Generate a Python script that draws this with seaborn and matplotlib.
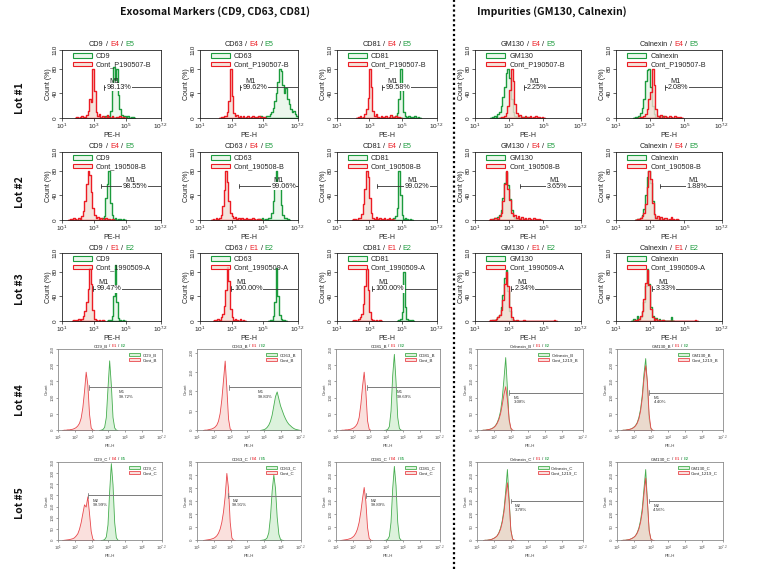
import numpy as np
import matplotlib
matplotlib.use("Agg")
import matplotlib.pyplot as plt
from matplotlib.patches import Patch
from matplotlib.lines import Line2D
import seaborn as sns

sns.set_theme(style="white")
plt.rcParams["font.family"] = ["Liberation Sans", "DejaVu Sans"]
plt.rcParams["mathtext.fontset"] = "custom"
plt.rcParams["mathtext.rm"] = "Liberation Sans"
plt.rcParams["mathtext.it"] = "Liberation Sans"
plt.rcParams["mathtext.default"] = "regular"

# ---------------------------------------------------------------- data
BIN = 0.1  # width of one histogram bin, in decades of PE-H

# (log10 of first bin's left edge, counts per bin)
# Lot #1  (Count %, max ~80)
L1_CD9_ctrl = (1.8, [0,2,0,1,3,0,2,5,12,30,26,80,44,10,3,6,0,4,2,0,5,1,0,3,0,0,2,0,4,0,1,0])
L1_CD9_pos = (3.4, [0,2,1,3,0,4,12,45,82,62,80,38,14,5,2,4,0,3,0,1,2,0])
L1_CD63_ctrl = (2.2, [0,2,1,4,3,10,28,80,36,8,3,5,1,4,0,3,0,2,4,0,1,3,0,2,0,3,1,0,2,0])
L1_CD63_pos = (4.5, [0,2,0,3,1,0,2,4,3,6,10,16,28,40,58,80,76,54,40,48,30,22,14,10,12,6,4,2])
L1_CD81_ctrl = (2.2, [0,1,3,0,2,6,14,32,80,50,12,4,6,2,0,4,1,0,3,0,2,5,0,1,3,0,2,0])
L1_CD81_pos = (4.3, [0,2,1,4,8,30,80,46,10,3,1,4,0,2,0,3,0,1,0])
L1_GM130_ctrl = (2.4, [0,1,2,4,8,20,45,80,60,22,8,3,5,1,0,3,0,2,4,0,1,3,0,2,0,1,0])
L1_GM130_pos = (1.9, [0,1,3,2,6,10,20,34,50,72,80,64,30,10,3,2,4,0,1,2,0,1,0])
L1_CAL_ctrl = (2.3, [0,2,1,3,6,14,30,42,80,54,14,4,2,5,0,3,1,0,4,2,0,3,1,0,2,0])
L1_CAL_pos = (2.0, [0,2,1,4,8,16,30,60,78,80,50,20,6,2,4,1,0,3,0,2,0])

# Lot #2
L2_CD9_ctrl = (1.4, [0,1,0,3,2,0,4,2,6,14,30,58,80,72,46,20,8,3,5,1,4,0,2,3,0,1,0,2,0])
L2_CD9_pos = (3.2, [0,2,1,3,6,36,58,80,28,8,2,3,0,2,1,0,2,0])
L2_CD63_ctrl = (1.7, [0,2,0,3,1,4,8,22,48,80,62,30,12,6,3,5,2,4,1,3,0,2,4,1,2,0,3,1,0,2,1,0])
L2_CD63_pos = (4.6, [0,2,1,3,0,2,1,3,4,12,30,58,80,55,58,24,8,3,4,1,0])
L2_CD81_ctrl = (1.9, [0,2,1,0,3,4,10,26,50,80,70,36,12,4,2,5,1,3,0,2,4,0,1,3,0,2,0])
L2_CD81_pos = (4.3, [0,2,3,6,20,80,40,8,2,3,1,0,2,0])
L2_GM130_ctrl = (1.8, [0,2,0,3,4,2,6,12,30,58,80,50,32,12,6,8,3,6,2,5,1,4,0,3,2,0,4,1,0,2,0])
L2_GM130_pos = (1.9, [0,1,3,2,5,8,16,36,60,78,56,34,16,6,3,2,4,1,0,2,0])
L2_CAL_ctrl = (2.1, [0,2,1,3,6,12,26,54,80,66,28,10,4,6,2,5,1,3,4,0,2,5,1,0,2,0])
L2_CAL_pos = (2.1, [0,1,2,4,8,18,40,70,80,60,30,8,3,2,4,0,1,0])

# Lot #3
L3_CD9_ctrl = (1.6, [0,1,0,2,3,1,4,8,16,30,52,86,60,18,4,1,0,2,0,1,0])
L3_CD9_pos = (3.8, [0,1,2,8,40,90,30,5,1,0,2,0])
L3_CD63_ctrl = (1.8, [0,2,1,3,2,6,12,24,50,88,64,20,6,2,4,1,0,3,0,1,0])
L3_CD63_pos = (5.3, [0,1,2,8,30,86,40,10,3,1,2,0])
L3_CD81_ctrl = (1.9, [0,1,2,0,3,6,12,28,56,84,50,14,4,1,0,2,0,1,0])
L3_CD81_pos = (4.7, [0,1,3,14,80,22,4,1,0,2,0])
L3_GM130_ctrl = (1.8, [0,1,2,1,4,6,10,18,34,60,80,56,22,6,2,0,1,0,0,0,2,0,0,0,0,0,0,0,0,0,0,0,0,0,0,0,0,0,2,0])
L3_GM130_pos = (1.9, [0,2,1,3,6,10,22,42,70,82,48,16,4,1,0])
L3_CAL_ctrl = (2.0, [0,1,2,4,8,16,36,62,82,58,20,6,2,3,0,1,0,2,0,0,0,0,0,0,0,0,0,0,0,0,0,0,0,0,0,0,2,0])
L3_CAL_pos = (1.9, [0,3,0,8,2,6,14,30,56,84,60,22,8,2,5,0,3,0,2,0,0,0,0,6,0])

# Lot #4 (Count)
L4_CD9_ctrl = (1.2, [0,1,1,2,2,3,4,6,9,14,22,38,70,120,180,140,50,8,1,0])
L4_CD9_pos = (3.4, [0,1,3,10,40,130,215,140,40,8,1,0])
L4_CD63_ctrl = (1.3, [0,1,1,2,3,4,6,9,14,24,44,80,130,180,110,30,4,0])
L4_CD63_pos = (4.7, [0,1,2,4,8,14,24,40,64,88,100,82,64,52,40,30,22,16,12,8,5,3,2,1,0])
L4_CD81_ctrl = (1.2, [0,1,1,2,2,3,4,6,9,14,22,40,80,135,180,120,30,4,0])
L4_CD81_pos = (3.8, [0,1,3,12,60,170,235,150,40,6,1,0])
L4_CAL_ctrl = (1.2, [0,1,1,2,3,4,6,9,14,22,34,52,80,112,135,95,35,8,1,0])
L4_CAL_pos = (1.2, [0,1,1,2,3,4,6,10,15,24,38,60,100,160,225,130,30,4,0])
L4_GM130_ctrl = (1.2, [0,1,1,2,3,4,6,9,14,22,36,60,100,160,200,150,50,8,1,0])
L4_GM130_pos = (1.2, [0,1,1,2,3,4,6,10,15,24,40,66,110,175,222,140,36,5,0])

# Lot #5 (Count)
L5_CD9_ctrl = (1.2, [0,1,2,3,4,6,8,12,20,30,50,80,120,160,150,196,120,40,6,0])
L5_CD9_pos = (3.5, [0,1,4,16,70,220,345,250,80,12,1,0])
L5_CD63_ctrl = (1.3, [0,1,2,3,4,6,8,12,18,28,44,70,110,170,258,200,70,10,1,0])
L5_CD63_pos = (4.7, [0,1,2,4,10,30,90,190,252,200,90,24,4,1,0])
L5_CD81_ctrl = (1.2, [0,1,2,3,4,6,8,12,18,28,44,70,110,160,204,150,50,8,1,0])
L5_CD81_pos = (3.8, [0,1,4,16,70,200,285,210,70,10,1,0])
L5_CAL_ctrl = (1.3, [0,1,1,2,3,5,8,12,18,28,44,70,110,170,222,150,40,6,1,0])
L5_CAL_pos = (1.3, [0,1,1,2,3,5,8,12,18,30,48,76,120,190,273,160,40,6,0])
L5_GM130_ctrl = (1.2, [0,1,1,2,3,5,8,12,18,28,44,70,110,180,240,150,40,6,1,0])
L5_GM130_pos = (1.2, [0,1,1,2,3,5,8,12,18,30,48,78,124,200,273,150,36,5,0])

# labels
markers_top = ["CD9", "CD63", "CD81", "GM130", "Calnexin"]
markers_bottom = ["CD9", "CD63", "CD81", "Calnexin", "GM130"]
ctrl_top = ["Cont_P190507-B", "Cont_190508-B", "Cont_1990509-A"]
gates_top = [["E4", "E5"], ["E4", "E5"], ["E1", "E2"]]
lot_names = ["Lot #1", "Lot #2", "Lot #3", "Lot #4", "Lot #5"]

pct_lot1 = ["98.13%", "99.62%", "99.58%", "2.25%", "2.08%"]
pct_lot2 = ["98.55%", "99.06%", "99.02%", "3.65%", "1.88%"]
pct_lot3 = ["99.47%", "100.00%", "100.00%", "2.34%", "3.33%"]
pct_lot4 = ["99.72%", "99.83%", "99.69%", "3.08%", "4.40%"]
pct_lot5 = ["99.99%", "99.91%", "99.89%", "3.78%", "4.56%"]

gate_lo_lot1 = [3.6, 3.5, 3.8, 3.85, 3.85]
gate_lo_lot2 = [3.45, 3.45, 3.5, 3.65, 3.6]
gate_lo_lot3 = [2.95, 2.95, 3.2, 3.1, 3.1]
gate_lo_lot4 = [2.84, 2.93, 2.85, 2.9, 2.9]
gate_lo_lot5 = [2.8, 2.85, 2.8, 2.96, 2.87]
gate_level_top = [50, 55, 52]
gate_level_lot4 = [132, 111, 132, 115, 115]
gate_level_lot5 = [200, 171, 171, 150, 150]
ymax_lot4 = [250, 210, 250, 250, 250]
ymax_lot5 = [350, 300, 300, 300, 300]

ctrl_lot4 = ["Cont_B", "Cont_B", "Cont_B", "Cont_1219_B", "Cont_1219_B"]
ctrl_lot5 = ["Cont_C", "Cont_C", "Cont_C", "Cont_1219_C", "Cont_1219_C"]
gates_lot4 = [["E1", "E2"]] * 5
gates_lot5 = [["E4", "E5"], ["E4", "E5"], ["E4", "E5"], ["E1", "E2"], ["E1", "E2"]]

top_series = [
    [(L1_CD9_pos, L1_CD9_ctrl), (L1_CD63_pos, L1_CD63_ctrl), (L1_CD81_pos, L1_CD81_ctrl), (L1_GM130_pos, L1_GM130_ctrl), (L1_CAL_pos, L1_CAL_ctrl)],
    [(L2_CD9_pos, L2_CD9_ctrl), (L2_CD63_pos, L2_CD63_ctrl), (L2_CD81_pos, L2_CD81_ctrl), (L2_GM130_pos, L2_GM130_ctrl), (L2_CAL_pos, L2_CAL_ctrl)],
    [(L3_CD9_pos, L3_CD9_ctrl), (L3_CD63_pos, L3_CD63_ctrl), (L3_CD81_pos, L3_CD81_ctrl), (L3_GM130_pos, L3_GM130_ctrl), (L3_CAL_pos, L3_CAL_ctrl)],
]
bottom_series = [
    [(L4_CD9_pos, L4_CD9_ctrl), (L4_CD63_pos, L4_CD63_ctrl), (L4_CD81_pos, L4_CD81_ctrl), (L4_CAL_pos, L4_CAL_ctrl), (L4_GM130_pos, L4_GM130_ctrl)],
    [(L5_CD9_pos, L5_CD9_ctrl), (L5_CD63_pos, L5_CD63_ctrl), (L5_CD81_pos, L5_CD81_ctrl), (L5_CAL_pos, L5_CAL_ctrl), (L5_GM130_pos, L5_GM130_ctrl)],
]
pct_top = [pct_lot1, pct_lot2, pct_lot3]
gate_lo_top = [gate_lo_lot1, gate_lo_lot2, gate_lo_lot3]

# ---------------------------------------------------------------- layout / style
W, H = 757, 569
COLS_TOP = [(62, 161), (200, 298), (337, 437), (475, 581), (616, 722)]
ROWS_TOP = [(50, 118), (152, 220), (253, 321)]
COLS_BOT = [(58, 162), (197, 301), (336, 440), (477, 583), (617, 723)]
ROWS_BOT = [(349, 430), (462, 540)]
LOT_Y = [98, 192, 289, 400, 503]
TXT_X_LOT2 = [4.8, 5.5, 5.2, 5.2, 5.1]

RED, GREEN = "#ec1c24", "#1b9b3d"
RED_FILL, GREEN_FILL = (0.95, 0.87, 0.83, 0.8), (0.85, 0.94, 0.86, 0.5)
RED2, GREEN2 = "#e8474c", "#46ad4f"
RED2_FILL, GREEN2_FILL = (0.97, 0.78, 0.76, 0.55), (0.84, 0.94, 0.84, 0.85)

fig = plt.figure(figsize=(W / 100, H / 100), dpi=100)
fig.patch.set_facecolor("white")
renderer = fig.canvas.get_renderer()


def add_axes(cx, ry):
    l, r = cx
    t, b = ry
    return fig.add_axes([l / W, 1 - b / H, (r - l) / W, (b - t) / H])


def hist(ax, series, color, face, lw, element):
    x0, counts = series
    counts = np.asarray(counts, dtype=float)
    n = len(counts)
    centers = x0 + BIN * (np.arange(n) + 0.5)
    sns.histplot(x=centers, weights=counts, bins=n, binrange=(x0, x0 + BIN * n),
                 element=element, fill=True, color=color, facecolor=face,
                 linewidth=lw, ax=ax)


def multi_title(ax, parts, size, gap_px, sep_px):
    pos = ax.get_position()
    xc = (pos.x0 + pos.x1) / 2 * W
    y = (pos.y1 * H + gap_px) / H
    texts = [fig.text(0, y, s, color=c, fontsize=size, va="bottom", ha="left") for s, c in parts]
    widths = [t.get_window_extent(renderer).width for t in texts]
    total = sum(widths) + sep_px * (len(widths) - 1)
    x = xc - total / 2
    for t, w in zip(texts, widths):
        t.set_x(x / W)
        x += w + sep_px


def title_parts(name, g):
    return [(name, "#222222"), ("/", "#222222"), (g[0], RED), ("/", "#222222"), (g[1], GREEN)]


# ---------------------------------------------------------------- lots 1-3
for r in range(3):
    for c in range(5):
        ax = add_axes(COLS_TOP[c], ROWS_TOP[r])
        pos_s, ctrl_s = top_series[r][c]
        hist(ax, pos_s, GREEN, GREEN_FILL, 1.0, "step")
        hist(ax, ctrl_s, RED, RED_FILL, 1.0, "step")
        ax.set_xlim(1, 7.2)
        ax.set_ylim(0, 110)
        ax.set_xticks([1, 3, 5, 7.2])
        ax.set_xticklabels([r"$10^{1}$", r"$10^{3}$", r"$10^{5}$", r"$10^{7.2}$"], fontsize=4.6)
        ax.set_yticks([0, 40, 80, 110])
        ax.set_yticklabels(["0", "40", "80", "110"], fontsize=4.6, rotation=90, va="center")
        ax.tick_params(axis="both", length=2, width=0.5, pad=1, direction="out",
                       bottom=True, left=True, colors="#222222")
        for s in ax.spines.values():
            s.set_color("#222222")
            s.set_linewidth(0.6)
        ax.set_xlabel("PE-H", fontsize=5, labelpad=0.5, color="#222222")
        ax.set_ylabel("Count (%)", fontsize=5, labelpad=0.5, color="#222222")
        # gate
        x0 = gate_lo_top[r][c]
        gy = gate_level_top[r]
        ax.plot([x0, 7.2], [gy, gy], color="#333333", lw=0.6, zorder=4)
        ax.plot([x0, x0], [gy - 4, gy + 4], color="#333333", lw=0.6, zorder=4)
        tx = TXT_X_LOT2[c] if r == 1 else x0 + 0.2
        ax.text(tx + 0.15, gy + 4, "M1", fontsize=5.2, va="bottom", ha="left", zorder=5, color="#222222")
        ax.text(tx, gy, pct_top[r][c], fontsize=5.2, va="center", ha="left", zorder=5, color="#222222",
                bbox=dict(facecolor="white", edgecolor="none", pad=0.3))
        handles = [Patch(facecolor=GREEN_FILL, edgecolor=GREEN, lw=0.8, label=markers_top[c]),
                   Patch(facecolor=RED_FILL, edgecolor=RED, lw=0.8, label=ctrl_top[r])]
        ax.legend(handles=handles, loc="upper left", bbox_to_anchor=(0.08, 1.0), frameon=False,
                  fontsize=5.2, handlelength=2.6, handleheight=0.55, labelspacing=0.2,
                  handletextpad=0.6, borderaxespad=0.2, borderpad=0.2)
        multi_title(ax, title_parts(markers_top[c], gates_top[r]), 5.2, 1.5, 2.2)

# ---------------------------------------------------------------- lots 4-5
pct_bot = [pct_lot4, pct_lot5]
gate_lo_bot = [gate_lo_lot4, gate_lo_lot5]
gate_level_bot = [gate_level_lot4, gate_level_lot5]
ymax_bot = [ymax_lot4, ymax_lot5]
ctrl_bot = [ctrl_lot4, ctrl_lot5]
gates_bot = [gates_lot4, gates_lot5]
suffix_bot = ["_B", "_C"]
mlabel_bot = ["M1", "M2"]

for r in range(2):
    for c in range(5):
        ax = add_axes(COLS_BOT[c], ROWS_BOT[r])
        pos_s, ctrl_s = bottom_series[r][c]
        hist(ax, pos_s, GREEN2, GREEN2_FILL, 0.6, "poly")
        hist(ax, ctrl_s, RED2, RED2_FILL, 0.6, "poly")
        ymax = ymax_bot[r][c]
        ax.set_xlim(1, 7.2)
        ax.set_ylim(0, ymax)
        ax.set_xticks([1, 2, 3, 4, 5, 6, 7.2])
        ax.set_xticklabels([r"$10^{1}$", r"$10^{2}$", r"$10^{3}$", r"$10^{4}$", r"$10^{5}$",
                            r"$10^{6}$", r"$10^{7.2}$"], fontsize=3.2)
        yt = list(range(0, ymax + 1, 50))
        ax.set_yticks(yt)
        ax.set_yticklabels([str(v) for v in yt], fontsize=3.2, rotation=90, va="center")
        ax.tick_params(axis="both", length=1.5, width=0.4, pad=1, direction="out",
                       bottom=True, left=True, colors="#555555")
        for s in ax.spines.values():
            s.set_color("#8a8a8a")
            s.set_linewidth(0.6)
        ax.set_xlabel("PE-H", fontsize=3.2, labelpad=1, color="#444444")
        ax.set_ylabel("Count", fontsize=3.2, labelpad=1, color="#444444")
        x0 = gate_lo_bot[r][c]
        gy = gate_level_bot[r][c]
        ax.plot([x0, 7.2], [gy, gy], color="#7a7a7a", lw=0.7, zorder=4)
        ax.plot([x0, x0], [gy - 0.03 * ymax, gy + 0.03 * ymax], color="#7a7a7a", lw=0.6, zorder=4)
        tx = 4.6 if (r == 0 and c < 3) else x0 + 0.25
        ax.text(tx, gy - 0.04 * ymax, f"{mlabel_bot[r]}\n{pct_bot[r][c]}", fontsize=3.2,
                va="top", ha="left", linespacing=1.1, color="#333333", zorder=5)
        name = markers_bottom[c] + suffix_bot[r]
        handles = [Patch(facecolor=GREEN2_FILL, edgecolor=GREEN2, lw=0.6, label=name),
                   Patch(facecolor=RED2_FILL, edgecolor=RED2, lw=0.6, label=ctrl_bot[r][c])]
        ax.legend(handles=handles, loc="upper right", bbox_to_anchor=(0.97, 0.97), frameon=False,
                  fontsize=3.2, handlelength=2.4, handleheight=0.6, labelspacing=0.25,
                  handletextpad=0.6, borderaxespad=0.2, borderpad=0.2)
        multi_title(ax, title_parts(name, gates_bot[r][c]), 3.2, 1.0, 1.2)

# ---------------------------------------------------------------- headers / row labels / divider
hdr_font = ["Noto Sans CJK KR", "DejaVu Sans"]
fig.text(215 / W, 1 - 12 / H, "Exosomal Markers (CD9, CD63, CD81)", ha="center", va="center",
         fontsize=7.5, fontweight="bold", family=hdr_font, color="#111111")
fig.text(552 / W, 1 - 12 / H, "Impurities (GM130, Calnexin)", ha="center", va="center",
         fontsize=7.5, fontweight="bold", family=hdr_font, color="#111111")
for name, y in zip(lot_names, LOT_Y):
    fig.text(20 / W, 1 - y / H, name, rotation=90, ha="center", va="center",
             fontsize=7.5, fontweight="bold", family=hdr_font, color="#111111")
fig.add_artist(Line2D([454 / W, 454 / W], [0, 1], color="black", lw=1.6,
                      linestyle=(0, (1, 1.2)), transform=fig.transFigure))

fig.savefig("out.png", dpi=100, facecolor="white")
